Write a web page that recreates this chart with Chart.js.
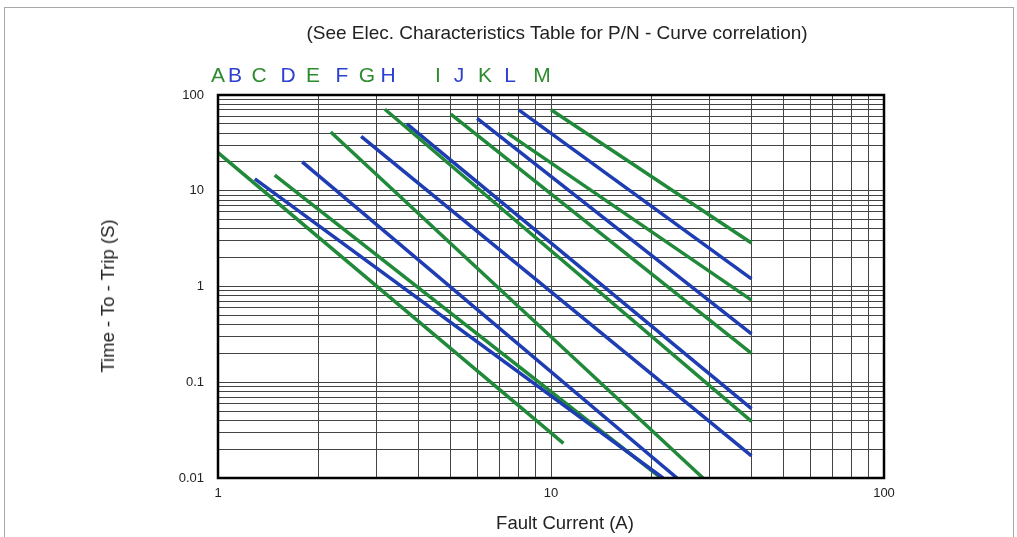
<!DOCTYPE html>
<html>
<head>
<meta charset="utf-8">
<script src="https://cdn.jsdelivr.net/npm/chart.js@4"></script>
<style>
  body { margin: 0; background: #fff; font-family: "Liberation Sans", Arial, sans-serif; }
  #wrap { position: relative; width: 1017px; height: 537px; overflow: hidden; }
  #frame { position: absolute; left: 4px; top: 7px; width: 1008px; height: 600px; border: 1.5px solid #a8a8a8; }
  #chart { position: absolute; left: 0; top: 0; }
  .txt { position: absolute; color: #222; font-size: 18.5px; white-space: nowrap; }
  #title { left: 557px; top: 33px; font-size: 19px; transform: translate(-50%, -50%); }
  #xtitle { left: 565px; top: 523px; transform: translate(-50%, -50%); }
  #ytitle { left: 108px; top: 296px; transform: translate(-50%, -50%) rotate(-90deg); }
  .letter { position: absolute; top: 75px; font-size: 21px; transform: translate(-50%, -50%); }
</style>
</head>
<body>
<div id="wrap">
  <div id="frame"></div>
  <canvas id="chart" width="1017" height="537"></canvas>
  <div class="txt" id="title">(See Elec. Characteristics Table for P/N - Curve correlation)</div>
  <div class="txt" id="xtitle">Fault Current (A)</div>
  <div class="txt" id="ytitle">Time - To - Trip (S)</div>
  <div id="letters"></div>
</div>
<script>
// curve data: each curve is a straight line on log-log
const curveNames = ['A', 'B', 'C', 'D', 'E', 'F', 'G', 'H', 'I', 'J', 'K', 'L', 'M'];
const startCurrent = [1, 1.29, 1.48, 1.79, 2.18, 2.69, 3.17, 3.69, 5, 6, 7.4, 8, 10];
const startTime = [25, 13.3, 14.6, 20, 41, 37, 71, 50, 63, 57, 40, 70, 70];
const endCurrent = [10.9, 21.7, 21.4, 23.9, 28.6, 40, 40, 40, 40, 40, 40, 40, 40];
const endTime = [0.023, 0.01, 0.01, 0.01, 0.01, 0.017, 0.039, 0.053, 0.2, 0.32, 0.72, 1.2, 2.85];

// axis ticks
const xDecades = [1, 10];
const yDecades = [0.01, 0.1, 1, 10];
const gridSteps = [1, 2, 3, 4, 5, 6, 7, 8, 9];
const xTickLabels = [1, 10, 100];
const yTickLabels = [0.01, 0.1, 1, 10, 100];

// layout of the letter row above the chart (pixel centres)
const letterLeft = [218, 235, 259, 288, 313, 342, 367, 388, 438, 459, 485, 510, 542];

const GREEN = '#21893a';
const BLUE = '#1f3db3';

const letters = document.getElementById('letters');
curveNames.forEach((name, i) => {
  const s = document.createElement('span');
  s.className = 'letter';
  s.textContent = name;
  s.style.left = letterLeft[i] + 'px';
  s.style.color = i % 2 === 0 ? '#2e8b2e' : '#2c40d2';
  letters.appendChild(s);
});

function gridValues(decades, top) {
  const vals = [];
  decades.forEach(d => gridSteps.forEach(m => vals.push(+(m * d).toPrecision(6))));
  vals.push(top);
  return vals;
}

function sameValue(a, b) {
  return Math.abs(Math.log10(a) - Math.log10(b)) < 1e-9;
}

const datasets = curveNames.map((name, i) => ({
  label: name,
  data: [{ x: startCurrent[i], y: startTime[i] }, { x: endCurrent[i], y: endTime[i] }],
  showLine: true,
  borderColor: i % 2 === 0 ? GREEN : BLUE,
  borderWidth: 3.5,
  pointRadius: 0,
  fill: false
}));

const framePlugin = {
  id: 'frame',
  afterDraw(chart) {
    const a = chart.chartArea;
    const ctx = chart.ctx;
    ctx.save();
    ctx.strokeStyle = '#000';
    ctx.lineWidth = 2.5;
    ctx.strokeRect(a.left, a.top, a.right - a.left, a.bottom - a.top);
    ctx.restore();
  }
};

new Chart(document.getElementById('chart'), {
  type: 'scatter',
  data: { datasets: datasets },
  options: {
    responsive: false,
    animation: false,
    layout: { padding: { left: 0, top: 95, right: 133, bottom: 0 } },
    plugins: { legend: { display: false }, tooltip: { enabled: false } },
    scales: {
      x: {
        type: 'logarithmic',
        min: 1,
        max: 100,
        afterBuildTicks(scale) {
          scale.ticks = gridValues(xDecades, 100).map(v => ({ value: v }));
        },
        afterFit(scale) { scale.height = 59; },
        grid: { color: '#444', lineWidth: 1, drawTicks: false },
        border: { display: false },
        ticks: {
          autoSkip: false,
          maxRotation: 0,
          padding: 8,
          color: '#222',
          font: { family: '"Liberation Sans", Arial, sans-serif', size: 13 },
          callback: v => xTickLabels.some(t => sameValue(t, v)) ? String(v) : ''
        }
      },
      y: {
        type: 'logarithmic',
        min: 0.01,
        max: 100,
        afterBuildTicks(scale) {
          scale.ticks = gridValues(yDecades, 100).map(v => ({ value: v }));
        },
        afterFit(scale) { scale.width = 218; },
        grid: { color: '#444', lineWidth: 1, drawTicks: false },
        border: { display: false },
        ticks: {
          autoSkip: false,
          padding: 14,
          color: '#222',
          font: { family: '"Liberation Sans", Arial, sans-serif', size: 13 },
          callback: v => yTickLabels.some(t => sameValue(t, v)) ? String(v) : ''
        }
      }
    }
  },
  plugins: [framePlugin]
});
</script>
</body>
</html>
